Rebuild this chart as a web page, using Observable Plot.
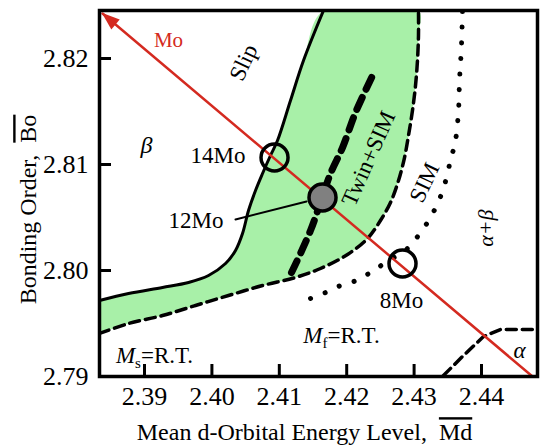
<!DOCTYPE html>
<html><head><meta charset="utf-8">
<script src="https://cdn.jsdelivr.net/npm/d3@7"></script>
<script src="https://cdn.jsdelivr.net/npm/@observablehq/plot@0.6"></script>
<style>body{margin:0;background:#fff} svg{display:block}</style>
</head><body><div id="chart"></div>
<script>
// ---- data (Md, Bo) ----
const xTicks = [2.39, 2.40, 2.41, 2.42, 2.43, 2.44];
const yTicks = [2.79, 2.80, 2.81, 2.82];
const xDomain = [2.38332, 2.44831];
const yDomain = [2.79, 2.82453];

// Slip / twin boundary (solid)
const slipMd = [2.38332, 2.38763, 2.39267, 2.39653, 2.39950, 2.40202, 2.40350, 2.40454, 2.40543, 2.40647, 2.40751, 2.40869, 2.40973, 2.41166, 2.41359, 2.41656];
const slipBo = [2.79717, 2.79783, 2.79840, 2.79887, 2.79953, 2.80066, 2.80189, 2.80349, 2.80566, 2.80755, 2.80915, 2.81085, 2.81226, 2.81604, 2.81981, 2.82453];
// Ms = R.T. (dashed)
const msMd = [2.38332, 2.38763, 2.39267, 2.39757, 2.40246, 2.40751, 2.41240, 2.41611, 2.42012, 2.42309, 2.42501, 2.42650, 2.42769, 2.42858, 2.42917, 2.42976, 2.43021, 2.43050, 2.43065, 2.43065];
const msBo = [2.79406, 2.79500, 2.79575, 2.79670, 2.79764, 2.79858, 2.79934, 2.80019, 2.80151, 2.80302, 2.80472, 2.80642, 2.80849, 2.81066, 2.81274, 2.81509, 2.81745, 2.81981, 2.82217, 2.82453];
// twin / SIM split (thick dashed)
const twinMd = [2.41181, 2.41463, 2.41760, 2.41938, 2.42131, 2.42398];
const twinBo = [2.79981, 2.80377, 2.80915, 2.81160, 2.81491, 2.81858];
// Mf = R.T. (dotted)
const mfMd = [2.41463, 2.41686, 2.41908, 2.42145, 2.42353, 2.42576, 2.42902, 2.43095, 2.43243, 2.43347, 2.43436, 2.43540, 2.43614, 2.43659, 2.43674, 2.43703, 2.43718];
const mfBo = [2.79736, 2.79792, 2.79858, 2.79906, 2.79981, 2.80075, 2.80208, 2.80358, 2.80500, 2.80632, 2.80774, 2.81038, 2.81226, 2.81509, 2.81792, 2.82123, 2.82453];
// alpha boundary (dashed, bottom right)
const alphaMd = [2.43436, 2.43733, 2.44030, 2.44282, 2.44831];
const alphaBo = [2.79010, 2.79198, 2.79377, 2.79443, 2.79443];
// Mo vector
const moMd = [2.44757, 2.38377];
const moBo = [2.79000, 2.82425];
// alloys
const alloyNames = ["8Mo", "12Mo", "14Mo"];
const alloyMd = [2.42828, 2.41641, 2.40929];
const alloyBo = [2.80066, 2.80689, 2.81066];
const alloyFilled = [false, true, false];
// leader for 12Mo
const leaderMd = [2.40350, 2.41404];
const leaderBo = [2.80481, 2.80651];
// labels
const labelText = ["Mo", "Slip", "β", "14Mo", "12Mo", "Twin+SIM", "SIM", "α+β", "8Mo", "Mf=R.T.", "Ms=R.T.", "α"];
const labelMd = [2.39356, 2.40469, 2.39030, 2.40499, 2.40172, 2.42323, 2.43154, 2.44059, 2.42813, 2.41923, 2.39148, 2.44564];
const labelBo = [2.82170, 2.81962, 2.81179, 2.81085, 2.80472, 2.81057, 2.80830, 2.80400, 2.79717, 2.79387, 2.79198, 2.79245];
const xTitle = "Mean d-Orbital Energy Level,\u00a0\u00a0Md";
const yTitle = "Bonding Order,\u00a0\u00a0Bo";

// ---- styles ----
const red = "#d42a20";
const labelStyle = {
  "Mo": {fill: red, fontSize: 21},
  "Slip": {rotate: -65, fontSize: 23},
  "β": {fontStyle: "italic", fontSize: 24},
  "14Mo": {textAnchor: "end", fontSize: 23},
  "12Mo": {textAnchor: "end", fontSize: 23},
  "Twin+SIM": {rotate: -66, fontSize: 23},
  "SIM": {rotate: -65, fontSize: 23},
  "α+β": {rotate: -90, fontStyle: "italic", fontSize: 22},
  "8Mo": {fontSize: 23},
  "Mf=R.T.": {fontSize: 23},
  "Ms=R.T.": {fontSize: 23},
  "α": {fontStyle: "italic", fontSize: 23}
};

const pts = (xs, ys) => xs.map((x, i) => ({x, y: ys[i]}));
const slip = pts(slipMd, slipBo);
const ms = pts(msMd, msBo);
const greenPoly = slip.concat(ms.slice().reverse());
const alloys = alloyNames.map((n, i) => ({n, x: alloyMd[i], y: alloyBo[i], f: alloyFilled[i]}));
const labels = labelText.map((t, i) => ({t, x: labelMd[i], y: labelBo[i]}));

const font = "'Liberation Serif', 'Times New Roman', serif";

const marks = [
  Plot.line(greenPoly, {x: "x", y: "y", fill: "#a8f0a8", stroke: "none", curve: "catmull-rom", clip: true}),
  Plot.line(pts(mfMd, mfBo), {x: "x", y: "y", stroke: "black", strokeWidth: 5, strokeDasharray: "0.1,15.5", strokeLinecap: "round", curve: "catmull-rom", clip: true}),
  Plot.line(ms, {x: "x", y: "y", stroke: "black", strokeWidth: 3.5, strokeDasharray: "10,6", curve: "catmull-rom", clip: true}),
  Plot.line(pts(twinMd, twinBo), {x: "x", y: "y", stroke: "black", strokeWidth: 7, strokeDasharray: "13,9", curve: "catmull-rom"}),
  Plot.line(pts(alphaMd, alphaBo), {x: "x", y: "y", stroke: "black", strokeWidth: 3.5, strokeDasharray: "10,6", clip: true}),
  Plot.line(slip, {x: "x", y: "y", stroke: "black", strokeWidth: 3, curve: "catmull-rom", clip: true}),
  Plot.line(pts(moMd, moBo), {x: "x", y: "y", stroke: red, strokeWidth: 2.5, markerEnd: "arrow"}),
  Plot.line(pts(leaderMd, leaderBo), {x: "x", y: "y", stroke: "black", strokeWidth: 2}),
  Plot.dot(alloys, {x: "x", y: "y", r: 13.5, stroke: "black", strokeWidth: 3.5, fill: d => d.f ? "#808080" : "none"}),
  ...labels.map(l => Plot.text([l], {x: "x", y: "y", text: "t", fill: "black", fontFamily: font, ...labelStyle[l.t]})),
  Plot.frame({stroke: "black", strokeWidth: 3.5}),
  Plot.tickX(xTicks, {x: d => d, stroke: "black", strokeWidth: 3, insetTop: 354}),
  Plot.tickY(yTicks.slice(1), {y: d => d, stroke: "black", strokeWidth: 3, insetRight: 426}),
  Plot.axisX(xTicks, {anchor: "bottom", tickSize: 0, tickPadding: 10, tickFormat: d => d.toFixed(2), fontSize: 26, fontFamily: font, fill: "black", label: null}),
  Plot.axisY(yTicks, {anchor: "left", tickSize: 0, tickPadding: 11, tickFormat: d => d.toFixed(2), fontSize: 26, fontFamily: font, fill: "black", label: null}),
  Plot.text([xTitle], {frameAnchor: "bottom", lineAnchor: "middle", textAnchor: "middle", dx: -14, dy: 56, fontSize: 24, fontFamily: font, fill: "black"}),
  Plot.text([yTitle], {frameAnchor: "left", lineAnchor: "middle", textAnchor: "middle", dx: -71, dy: 16, rotate: -90, fontSize: 24, fontFamily: font, fill: "black"})
];

const svg = Plot.plot({
  width: 541, height: 446,
  marginLeft: 99, marginRight: 4, marginTop: 10, marginBottom: 70,
  x: {domain: xDomain, label: null},
  y: {domain: yDomain, label: null},
  style: {fontFamily: font, background: "white", color: "black"},
  marks
});

const NS = "http://www.w3.org/2000/svg";
// turn Plot's open arrow marker into a filled arrowhead
svg.querySelectorAll("marker").forEach(m => {
  m.setAttribute("viewBox", "-18 -8 20 16");
  m.setAttribute("markerWidth", "20");
  m.setAttribute("markerHeight", "16");
  m.setAttribute("markerUnits", "userSpaceOnUse");
  m.setAttribute("fill", red);
  m.setAttribute("stroke", "none");
  const p = m.querySelector("path");
  if (p) p.setAttribute("d", "M-17,-6.5L1,0L-17,6.5Z");
});

function rich(match, parts) {
  svg.querySelectorAll("text").forEach(t => {
    if (t.textContent === match) {
      t.textContent = "";
      for (const p of parts) {
        const ts = document.createElementNS(NS, "tspan");
        ts.textContent = p.t;
        if (p.italic) ts.setAttribute("font-style", "italic");
        if (p.size) ts.setAttribute("font-size", p.size);
        if (p.dy) ts.setAttribute("dy", p.dy);
        if (p.over) ts.setAttribute("text-decoration", "overline");
        t.appendChild(ts);
      }
    }
  });
}
rich("Ms=R.T.", [{t: "M", italic: true}, {t: "s", size: 15, dy: 5}, {t: "=R.T.", dy: -5}]);
rich("Mf=R.T.", [{t: "M", italic: true}, {t: "f", size: 15, dy: 5}, {t: "=R.T.", dy: -5}]);
rich(xTitle, [{t: "Mean d-Orbital Energy Level,\u00a0\u00a0"}, {t: "Md", over: true}]);
rich(yTitle, [{t: "Bonding Order,\u00a0\u00a0"}, {t: "Bo", over: true}]);

document.getElementById("chart").appendChild(svg);
</script>
</body></html>
